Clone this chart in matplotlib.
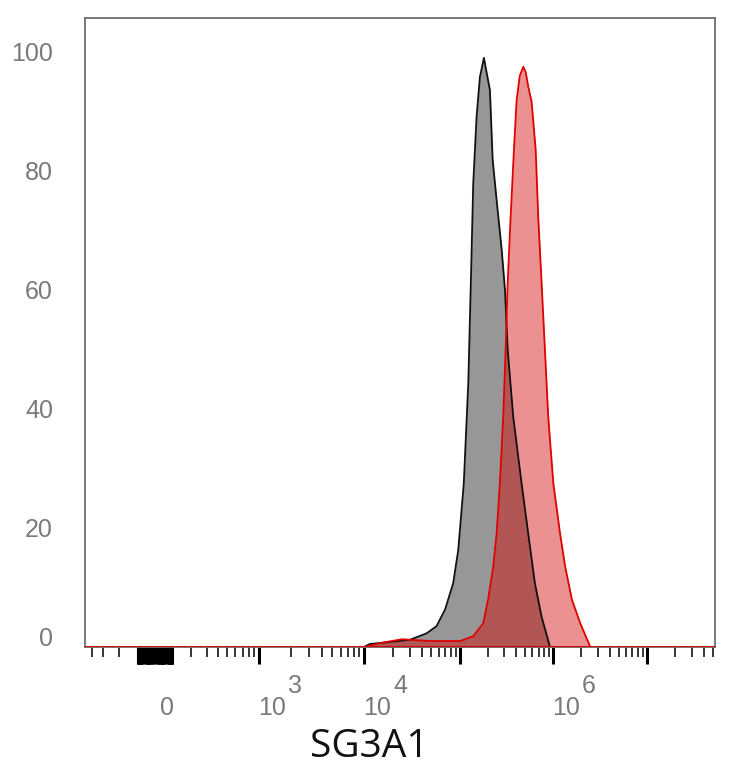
import numpy as np
import matplotlib
matplotlib.use('Agg')
import matplotlib.pyplot as plt
from matplotlib.ticker import FixedLocator, NullFormatter
from matplotlib import transforms

# histogram data (intensity, % of max)
grey_x = [1.0e4, 1.15e4, 2.0e4, 3.0e4, 4.5e4, 5.7e4, 7.0e4, 8.5e4, 9.6e4, 1.10e5,
          1.23e5, 1.31e5, 1.39e5, 1.51e5, 1.64e5, 1.81e5, 2.10e5, 2.25e5, 2.48e5,
          2.81e5, 3.05e5, 3.26e5, 3.74e5, 4.60e5, 5.42e5, 6.40e5, 7.55e5, 9.3e5]
grey_y = [0, 0.5, 0.9, 1.2, 2.3, 3.5, 6.3, 10.7, 16.3, 27.5,
          44.4, 61.2, 77.9, 89.1, 95.8, 99.0, 93.6, 81.8, 75.1,
          66.8, 60.0, 50.0, 38.7, 27.5, 19.1, 10.7, 5.1, 0]

red_x = [1.0e4, 1.65e4, 2.5e4, 4.9e4, 1.0e5, 1.39e5, 1.78e5, 2.01e5, 2.28e5, 2.48e5,
         2.69e5, 2.92e5, 3.10e5, 3.26e5, 3.51e5, 3.81e5, 4.07e5, 4.4e5, 4.80e5, 5.1e5,
         5.42e5, 5.90e5, 6.52e5, 6.95e5, 7.55e5, 8.20e5, 8.90e5, 1.01e6, 1.19e6,
         1.35e6, 1.59e6, 1.95e6, 2.50e6]
red_y = [0, 0.8, 1.3, 1.0, 1.0, 1.8, 4.0, 8.0, 13.5, 19.1,
         27.5, 38.7, 50.0, 61.2, 72.3, 83.6, 91.9, 96.0, 97.5, 96.6,
         94.2, 91.6, 83.6, 72.3, 61.2, 50.0, 38.7, 27.5, 19.1,
         13.5, 8.0, 4.0, 0]

y_ticks = [0, 20, 40, 60, 80, 100]
x_labels = [(0, '0', None), (1e3, '10', '3'), (1e4, '10', '4'), (1e6, '10', '6')]
xlabel = 'SG3A1'

# biexponential-like display axis (FlowJo style), anchor values -> screen units
scale_vals = np.array([-1e5, -1e4, -1e3, -500, -200, -100, 0, 100, 200, 500,
                       1e3, 1e4, 1e5, 1e6, 1e7, 1e8, 1e9])
scale_pos = np.array([-150, -54, 51, 83, 119, 138, 155, 172, 191, 227,
                      259, 364, 460, 553, 647, 741, 835], dtype=float)


def _h(x):
    return np.arcsinh(np.asarray(x, dtype=float) / 2) / np.log(10)


_H = _h(scale_vals)


def forward(x):
    return np.interp(_h(x), _H, scale_pos)


def inverse(p):
    return 2 * np.sinh(np.interp(np.asarray(p, dtype=float), scale_pos, _H) * np.log(10))


fig = plt.figure(figsize=(7.34, 7.68), dpi=100)
ax = fig.add_axes([85 / 734, 1 - 647 / 768, 630 / 734, 629 / 768])
ax.set_xscale('function', functions=(forward, inverse))

ax.fill_between(grey_x, grey_y, 0, color='#979797', lw=0, zorder=1)
ax.fill_between(red_x, red_y, 0, color='#d40000', alpha=0.43, lw=0, zorder=2)
ax.plot(grey_x, grey_y, color='#111111', lw=1.3, zorder=3)
ax.plot(red_x, red_y, color='#e00000', lw=1.3, zorder=4)
ax.axhline(0, color='#e00000', lw=1.4, zorder=4)

ax.set_xlim(-475, 5.3e7)
ax.set_ylim(0, 105.7)

# x ticks
cluster = [s * m * 10 ** k for s in (-1, 1) for k in (0, 1) for m in range(1, 10)] + [-100, 100]
majors = [0, 1e3, 1e4, 1e5, 1e6, 1e7] + cluster
minors = [-400, -300, -200] + [m * 10 ** k for k in range(2, 8) for m in range(2, 10)]
ax.xaxis.set_major_locator(FixedLocator(majors))
ax.xaxis.set_minor_locator(FixedLocator(minors))
ax.xaxis.set_major_formatter(NullFormatter())
ax.xaxis.set_minor_formatter(NullFormatter())
ax.tick_params(axis='x', which='major', length=12, width=2.2, color='black', direction='out')
ax.tick_params(axis='x', which='minor', length=7, width=1.1, color='black', direction='out')

for val, base, exp in x_labels:
    dx = 5 if exp is None else -1
    ax.annotate(base, xy=(val, 0), xycoords=('data', 'axes fraction'),
                xytext=(dx, -68), textcoords='offset pixels', ha='left', va='baseline',
                fontsize=18, family='Liberation Sans', color='#7a7a7a')
    if exp:
        ax.annotate(exp, xy=(val, 0), xycoords=('data', 'axes fraction'),
                    xytext=(29, -46), textcoords='offset pixels', ha='left', va='baseline',
                    fontsize=18, family='Liberation Sans', color='#7a7a7a')

# y ticks
ax.set_yticks(y_ticks)
ax.set_yticklabels([str(v) for v in y_ticks], fontsize=18, family='Liberation Sans', color='#7a7a7a')
ax.tick_params(axis='y', length=0, pad=23)
zero_lbl = ax.get_yticklabels()[0]
zero_lbl.set_transform(zero_lbl.get_transform() + transforms.ScaledTranslation(0, 10 / 100, fig.dpi_scale_trans))

for s in ax.spines.values():
    s.set_color('#6e6e6e')
    s.set_linewidth(1.3)

fig.text(369 / 734, 1 - 757 / 768, xlabel, ha='center', va='baseline',
         fontsize=28, family='Open Sans', color='#111111')

fig.savefig('out.png', dpi=100)
